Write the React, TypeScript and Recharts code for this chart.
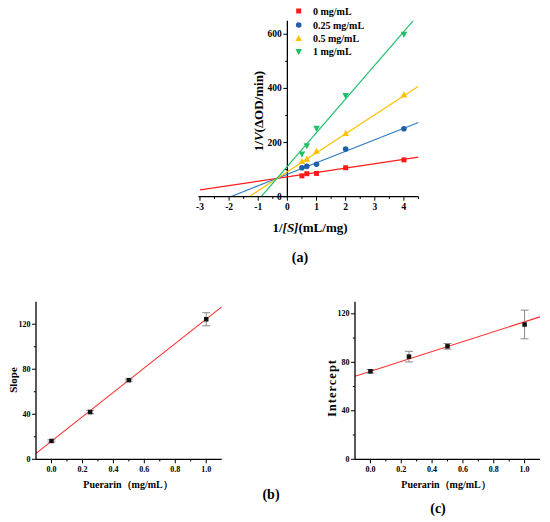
import React from 'react';
import { ComposedChart, Line, Scatter, XAxis, YAxis, ReferenceLine, ErrorBar } from 'recharts';

const SERIF = '"Liberation Serif", "Times New Roman", serif';

// ---------- Panel (a): Lineweaver-Burk ----------
const invS = [0.5, 0.667, 1, 2, 4];
const conc0 = [77, 85, 86, 107, 136];
const conc025 = [107, 112, 120, 176, 251];
const conc05 = [130, 139, 168, 234, 376];
const conc1 = [157, 188, 252, 373, 600];

const fit0X = [-3, 4.5];
const fit0Y = [25, 146];
const fit025X = [-1.95, 4.5];
const fit025Y = [0, 274];
const fit05X = [-1.31, 4.5];
const fit05Y = [0, 408];
const fit1X = [-0.9, 4.32];
const fit1Y = [0, 650];

const aXTicks = [-3, -2.5, -2, -1.5, -1, -0.5, 0, 0.5, 1, 1.5, 2, 2.5, 3, 3.5, 4, 4.5];
const aYTicks = [0, 100, 200, 300, 400, 500, 600];
const aLegend = ['0 mg/mL', '0.25 mg/mL', '0.5 mg/mL', '1 mg/mL'];

// ---------- Panels (b) and (c) ----------
const puerarin = [0, 0.25, 0.5, 1.0];
const slopeVals = [16.3, 42, 70.3, 124.4];
const slopeErr = [1, 1.5, 1, 5.8];
const slopeFitX = [-0.1, 1.1];
const slopeFitY = [5.3, 135.4];

const interceptVals = [72.6, 84.7, 93.2, 111.2];
const interceptErr = [1.5, 4.4, 2.3, 11.8];
const interceptFitX = [-0.1, 1.1];
const interceptFitY = [68.5, 117.5];

const bcXTicks = [0, 0.1, 0.2, 0.3, 0.4, 0.5, 0.6, 0.7, 0.8, 0.9, 1.0];
const bYTicks = [0, 20, 40, 60, 80, 100, 120];
const cYTicks = [0, 20, 40, 60, 80, 100, 120];

const COLORS = {
  red: '#FF1A1A',
  blue: '#1F60A8',
  blueLine: '#2F7DC1',
  yellow: '#FFC000',
  green: '#1FBF6A',
  greenLine: '#22C16E',
};

const zip = (xs: number[], ys: number[]) => xs.map((x, i) => ({ x, y: ys[i] }));
const zipErr = (xs: number[], ys: number[], es: number[]) => xs.map((x, i) => ({ x, y: ys[i], err: es[i] }));

// ---------- marker shapes ----------
const squareShape = (color: string, s = 5) => (p: any) => (
  <rect x={p.cx - s / 2} y={p.cy - s / 2} width={s} height={s} fill={color} />
);
const circleShape = (color: string, r = 2.8) => (p: any) => <circle cx={p.cx} cy={p.cy} r={r} fill={color} />;
const triUpShape = (color: string, s = 6.5) => (p: any) => (
  <polygon
    points={`${p.cx},${p.cy - s * 0.55} ${p.cx - s / 2},${p.cy + s * 0.4} ${p.cx + s / 2},${p.cy + s * 0.4}`}
    fill={color}
  />
);
const triDownShape = (color: string, s = 6.5) => (p: any) => (
  <polygon
    points={`${p.cx},${p.cy + s * 0.55} ${p.cx - s / 2},${p.cy - s * 0.4} ${p.cx + s / 2},${p.cy - s * 0.4}`}
    fill={color}
  />
);

// ---------- tick renderers ----------
const near = (v: number, step: number) => Math.abs(v / step - Math.round(v / step)) < 1e-6;

const makeXTick = (majorStep: number, fmt: (v: number) => string, fontSize: number, dy: number) => (props: any) => {
  const { x, y, payload } = props;
  const v = payload.value as number;
  const major = near(v, majorStep);
  return (
    <g>
      <line x1={x} y1={y} x2={x} y2={y + (major ? 4 : 2.2)} stroke="#000" strokeWidth={1} />
      {major && (
        <text
          x={x}
          y={y + dy}
          textAnchor="middle"
          dominantBaseline="central"
          fontSize={fontSize}
          fontWeight="bold"
          fontFamily={SERIF}
          fill="#000"
        >
          {fmt(v)}
        </text>
      )}
    </g>
  );
};

const makeYTick = (majorStep: number, fontSize: number, shift: number) => (props: any) => {
  const { x, y, payload } = props;
  const v = payload.value as number;
  const major = near(v, majorStep);
  const ax = x + shift;
  return (
    <g>
      <line x1={ax} y1={y} x2={ax - (major ? 4 : 2.2)} y2={y} stroke="#000" strokeWidth={1} />
      {major && (
        <text
          x={ax - 5.5}
          y={y}
          textAnchor="end"
          dominantBaseline="central"
          fontSize={fontSize}
          fontWeight="bold"
          fontFamily={SERIF}
          fill="#000"
        >
          {String(v)}
        </text>
      )}
    </g>
  );
};

// ---------- Panel A layout ----------
const A_W = 550;
const A_H = 270;
const A_LEFT = 198.5;
const A_RIGHT = 418.5;
const A_XDOM: [number, number] = [-3.05, 4.5];
const A_SHIFT = ((A_RIGHT - A_LEFT) * (0 - A_XDOM[0])) / (A_XDOM[1] - A_XDOM[0]);

function PanelA() {
  return (
    <ComposedChart
      width={A_W}
      height={A_H}
      margin={{ top: 20.7, right: A_W - A_RIGHT, bottom: 43.3, left: A_LEFT - 10 }}
    >
      <XAxis
        type="number"
        dataKey="x"
        domain={A_XDOM}
        allowDataOverflow
        ticks={aXTicks}
        interval={0}
        tickSize={0}
        tickMargin={0}
        height={30}
        axisLine={{ stroke: '#000', strokeWidth: 1.3 }}
        tick={makeXTick(1, (v) => String(v), 9.5, 10)}
      />
      <YAxis
        type="number"
        dataKey="y"
        domain={[0, 650]}
        allowDataOverflow
        ticks={aYTicks}
        interval={0}
        width={10}
        tickSize={0}
        tickMargin={0}
        axisLine={false}
        tick={makeYTick(200, 9.5, A_SHIFT)}
      />
      <ReferenceLine x={0} stroke="#000" strokeWidth={1.3} />
      <Line data={zip(fit0X, fit0Y)} dataKey="y" stroke={COLORS.red} strokeWidth={1.2} dot={false} isAnimationActive={false} />
      <Line data={zip(fit025X, fit025Y)} dataKey="y" stroke={COLORS.blueLine} strokeWidth={1.2} dot={false} isAnimationActive={false} />
      <Line data={zip(fit05X, fit05Y)} dataKey="y" stroke={COLORS.yellow} strokeWidth={1.2} dot={false} isAnimationActive={false} />
      <Line data={zip(fit1X, fit1Y)} dataKey="y" stroke={COLORS.greenLine} strokeWidth={1.2} dot={false} isAnimationActive={false} />
      <Scatter data={zip(invS, conc0)} shape={squareShape(COLORS.red)} isAnimationActive={false} />
      <Scatter data={zip(invS, conc025)} shape={circleShape(COLORS.blue)} isAnimationActive={false} />
      <Scatter data={zip(invS, conc05)} shape={triUpShape(COLORS.yellow)} isAnimationActive={false} />
      <Scatter data={zip(invS, conc1)} shape={triDownShape(COLORS.green)} isAnimationActive={false} />
    </ComposedChart>
  );
}

// ---------- Panels B/C ----------
function SmallPanel(props: {
  width: number;
  height: number;
  left: number;
  right: number;
  yMax: number;
  yTicks: number[];
  fitX: number[];
  fitY: number[];
  vals: number[];
  errs: number[];
}) {
  const { width, height, left, right, yMax, yTicks, fitX, fitY, vals, errs } = props;
  return (
    <ComposedChart
      width={width}
      height={height}
      margin={{ top: 11.7, right: width - right, bottom: height - 169.3 - 30, left: left - 20 }}
    >
      <XAxis
        type="number"
        dataKey="x"
        domain={[-0.1, 1.1]}
        allowDataOverflow
        ticks={bcXTicks}
        interval={0}
        tickSize={0}
        tickMargin={0}
        height={30}
        axisLine={{ stroke: '#000', strokeWidth: 1.3 }}
        tick={makeXTick(0.2, (v) => v.toFixed(1), 8, 10)}
      />
      <YAxis
        type="number"
        dataKey="y"
        domain={[0, yMax]}
        allowDataOverflow
        ticks={yTicks}
        interval={0}
        width={20}
        tickSize={0}
        tickMargin={0}
        axisLine={{ stroke: '#000', strokeWidth: 1.3 }}
        tick={makeYTick(40, 8, 0)}
      />
      <Line data={zip(fitX, fitY)} dataKey="y" stroke="#FF2A2A" strokeWidth={1.1} dot={false} isAnimationActive={false} />
      <Scatter data={zipErr(puerarin, vals, errs)} shape={squareShape('#111', 4.5)} isAnimationActive={false}>
        <ErrorBar dataKey="err" direction="y" width={4} stroke="#8a8a8a" strokeWidth={1} isAnimationActive={false} />
      </Scatter>
    </ComposedChart>
  );
}

function LegendMarker({ i, cx, cy }: { i: number; cx: number; cy: number }) {
  const shapes = [
    squareShape(COLORS.red),
    circleShape(COLORS.blue),
    triUpShape(COLORS.yellow),
    triDownShape(COLORS.green),
  ];
  return shapes[i]({ cx, cy });
}

function Overlay() {
  const t = { fontFamily: SERIF, fontWeight: 'bold' as const, fill: '#000' };
  const legendY = [11, 25, 38.5, 51.7];
  return (
    <svg width={550} height={522} style={{ position: 'absolute', left: 0, top: 0, pointerEvents: 'none' }}>
      {aLegend.map((label, i) => (
        <g key={label}>
          <LegendMarker i={i} cx={298.7} cy={legendY[i]} />
          <text x={313} y={legendY[i]} dominantBaseline="central" fontSize={10} {...t}>
            {label}
          </text>
        </g>
      ))}
      <text x={310} y={227} textAnchor="middle" dominantBaseline="central" fontSize={13} {...t}>
        1/<tspan fontStyle="italic">[S]</tspan>(mL/mg)
      </text>
      <text
        x={258}
        y={111}
        textAnchor="middle"
        dominantBaseline="central"
        fontSize={13}
        transform="rotate(-90 258 111)"
        {...t}
      >
        1/<tspan fontStyle="italic">V</tspan>(ΔOD/min)
      </text>
      <text x={300} y={257} textAnchor="middle" dominantBaseline="central" fontSize={14} {...t}>
        (a)
      </text>

      <text
        x={12.5}
        y={380}
        textAnchor="middle"
        dominantBaseline="central"
        fontSize={11}
        transform="rotate(-90 12.5 380)"
        {...t}
      >
        Slope
      </text>
      <text x={128} y={484} textAnchor="middle" dominantBaseline="central" fontSize={10} {...t}>
        Puerarin（mg/mL）
      </text>
      <text x={271} y={494} textAnchor="middle" dominantBaseline="central" fontSize={14} {...t}>
        (b)
      </text>

      <text
        x={331.5}
        y={388}
        textAnchor="middle"
        dominantBaseline="central"
        fontSize={12.5}
        letterSpacing={1}
        transform="rotate(-90 331.5 388)"
        {...t}
      >
        Intercept
      </text>
      <text x={446} y={484} textAnchor="middle" dominantBaseline="central" fontSize={10} {...t}>
        Puerarin（mg/mL）
      </text>
      <text x={438} y={508} textAnchor="middle" dominantBaseline="central" fontSize={14} {...t}>
        (c)
      </text>
    </svg>
  );
}

export default function App() {
  return (
    <div style={{ position: 'absolute', left: 0, top: 0, width: 550, height: 522, background: '#fff', overflow: 'hidden' }}>
      <div style={{ position: 'absolute', left: 0, top: 0 }}>
        <PanelA />
      </div>
      <div style={{ position: 'absolute', left: 0, top: 290 }}>
        <SmallPanel
          width={280}
          height={232}
          left={36}
          right={221.7}
          yMax={140}
          yTicks={bYTicks}
          fitX={slopeFitX}
          fitY={slopeFitY}
          vals={slopeVals}
          errs={slopeErr}
        />
      </div>
      <div style={{ position: 'absolute', left: 280, top: 290 }}>
        <SmallPanel
          width={270}
          height={232}
          left={75}
          right={260}
          yMax={130}
          yTicks={cYTicks}
          fitX={interceptFitX}
          fitY={interceptFitY}
          vals={interceptVals}
          errs={interceptErr}
        />
      </div>
      <Overlay />
    </div>
  );
}
